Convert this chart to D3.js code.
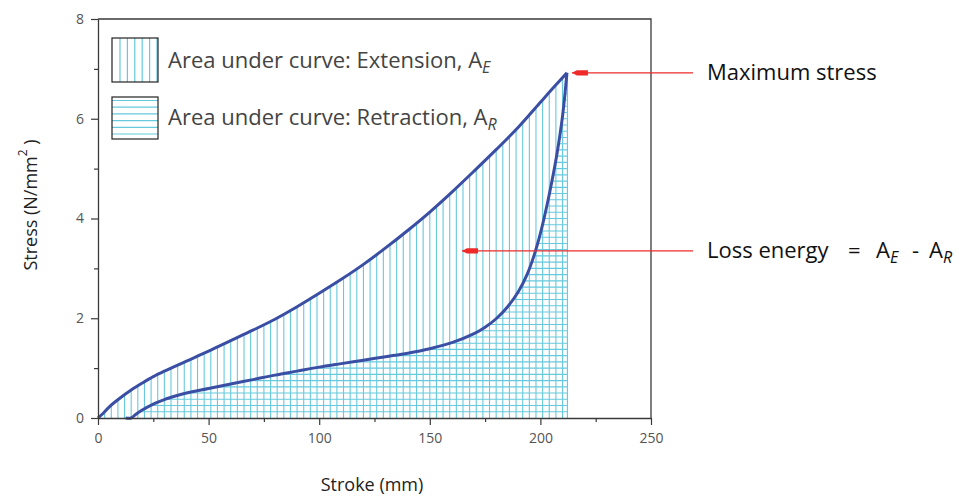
<!DOCTYPE html>
<html><head><meta charset="utf-8">
<script src="https://cdn.jsdelivr.net/npm/d3@7/dist/d3.min.js"></script>
<style>
body{margin:0;background:#fff;}
svg{display:block;font-family:"Open Sans",sans-serif;}
</style></head>
<body><svg id="c" width="964" height="498"></svg>
<script>
// ---- data ----
const extStroke = [0, 2, 5, 10, 15, 20, 25, 30, 40, 50, 60, 70, 80, 90, 100, 110, 120, 130, 140, 150, 160, 170, 180, 190, 200, 205, 212];
const extStress = [0, 0.08, 0.22, 0.40, 0.56, 0.70, 0.83, 0.94, 1.14, 1.34, 1.55, 1.76, 1.98, 2.23, 2.50, 2.78, 3.08, 3.41, 3.76, 4.13, 4.53, 4.95, 5.38, 5.83, 6.33, 6.58, 6.92];
const retStroke = [12.5, 15, 17, 20, 25, 30, 35, 40, 50, 60, 70, 80, 90, 100, 110, 120, 130, 140, 150, 160, 170, 175, 180, 185, 190, 194, 197, 200, 203, 205, 207.5, 210, 212];
const retStress = [0, 0, 0.07, 0.16, 0.28, 0.37, 0.44, 0.50, 0.59, 0.68, 0.77, 0.86, 0.94, 1.02, 1.09, 1.16, 1.23, 1.30, 1.39, 1.51, 1.69, 1.82, 1.99, 2.22, 2.53, 2.88, 3.24, 3.70, 4.27, 4.70, 5.30, 6.05, 6.92];
const xTicks = [0, 50, 100, 150, 200, 250];
const xMinor = [25, 75, 125, 175, 225];
const yTicks = [0, 2, 4, 6, 8];
const yMinor = [1, 3, 5, 7];
const legendLabels = ["Area under curve: Extension, A", "Area under curve: Retraction, A"];
const legendSubs = ["E", "R"];

const ext = extStroke.map((s, i) => ({x: s, y: extStress[i]}));
const ret = retStroke.map((s, i) => ({x: s, y: retStress[i]}));

const svg = d3.select("#c");
const L = 98, T = 19, R = 651, B = 418;
const x = d3.scaleLinear().domain([0, 250]).range([L, R]);
const y = d3.scaleLinear().domain([0, 8]).range([B, T]);

const hatch = "#66c9de";
const curveCol = "#3a4ea4";
const crv = d3.curveCatmullRom.alpha(0.5);

const areaGen = d3.area().x(d => x(d.x)).y0(y(0)).y1(d => y(d.y)).curve(crv);
const lineGen = d3.line().x(d => x(d.x)).y(d => y(d.y)).curve(crv);

const defs = svg.append("defs");
defs.append("clipPath").attr("id", "extClip").append("path").attr("d", areaGen(ext));
defs.append("clipPath").attr("id", "retClip").append("path").attr("d", areaGen(ret));

// vertical hatch (extension area)
const xmax = extStroke[extStroke.length - 1];
svg.append("g").attr("clip-path", "url(#extClip)")
  .selectAll("line").data(d3.range(0, xmax + 0.01, 3)).join("line")
  .attr("x1", d => x(d)).attr("x2", d => x(d))
  .attr("y1", y(0)).attr("y2", y(8))
  .attr("stroke", hatch).attr("stroke-width", 1.1);
// horizontal hatch (retraction area)
svg.append("g").attr("clip-path", "url(#retClip)")
  .selectAll("line").data(d3.range(0.125, 7, 0.125)).join("line")
  .attr("x1", x(0)).attr("x2", x(xmax))
  .attr("y1", d => y(d)).attr("y2", d => y(d))
  .attr("stroke", hatch).attr("stroke-width", 1.1);
// right edge of the hatched region
svg.append("line")
  .attr("x1", x(xmax) + 0.5).attr("x2", x(xmax) + 0.5)
  .attr("y1", y(0)).attr("y2", y(extStress[extStress.length - 1]))
  .attr("stroke", hatch).attr("stroke-width", 1.2);

// curves
svg.append("path").attr("d", lineGen(ext)).attr("fill", "none")
  .attr("stroke", curveCol).attr("stroke-width", 3).attr("stroke-linejoin", "round");
svg.append("path").attr("d", lineGen(ret)).attr("fill", "none")
  .attr("stroke", curveCol).attr("stroke-width", 3).attr("stroke-linejoin", "round");

// axes
const axCol = "#3a3a3a";
function styleAxis(g) {
  g.selectAll("path.domain").attr("stroke", axCol).attr("stroke-width", 1.3);
  g.selectAll(".tick line").attr("stroke", axCol).attr("stroke-width", 1.2);
  g.selectAll(".tick text").attr("fill", "#555").attr("font-size", 14)
    .attr("font-family", "'Open Sans',sans-serif");
}
const gx = svg.append("g").attr("transform", `translate(0,${B})`)
  .call(d3.axisBottom(x).tickValues(xTicks).tickSize(7).tickSizeOuter(0).tickPadding(8));
styleAxis(gx);
const gxm = svg.append("g").attr("transform", `translate(0,${B})`)
  .call(d3.axisBottom(x).tickValues(xMinor).tickSize(4).tickFormat(""));
gxm.select("path.domain").remove(); styleAxis(gxm);
const gy = svg.append("g").attr("transform", `translate(${L},0)`)
  .call(d3.axisLeft(y).tickValues(yTicks).tickSize(7).tickSizeOuter(0).tickPadding(7));
styleAxis(gy);
const gym = svg.append("g").attr("transform", `translate(${L},0)`)
  .call(d3.axisLeft(y).tickValues(yMinor).tickSize(4).tickFormat(""));
gym.select("path.domain").remove(); styleAxis(gym);
// frame top/right
svg.append("path").attr("d", `M${L},${T}H${R}V${B}`).attr("fill", "none")
  .attr("stroke", axCol).attr("stroke-width", 1.3);

// axis titles
svg.append("text").attr("x", 372).attr("y", 491).attr("text-anchor", "middle")
  .attr("font-size", 18).attr("fill", "#222").text("Stroke (mm)");
const yt = svg.append("text").attr("transform", "translate(37,205) rotate(-90)")
  .attr("text-anchor", "middle").attr("font-size", 18).attr("fill", "#222");
yt.append("tspan").text("Stress (N/mm");
yt.append("tspan").attr("dy", -10).attr("font-size", 12).text("2");
yt.append("tspan").attr("dy", 10).text(" )");

// legend
const lg = svg.append("g");
const boxes = [{y: 38, h: 44}, {y: 97, h: 42}];
boxes.forEach((b, i) => {
  const g = lg.append("g");
  g.append("rect").attr("x", 112).attr("y", b.y).attr("width", 46).attr("height", b.h)
    .attr("fill", "#fff");
  if (i === 0) {
    g.selectAll("line").data(d3.range(120, 158, 7.4)).join("line")
      .attr("x1", d => d).attr("x2", d => d).attr("y1", b.y).attr("y2", b.y + b.h)
      .attr("stroke", hatch).attr("stroke-width", 1.2);
  } else {
    g.selectAll("line").data(d3.range(b.y + 3.5, b.y + b.h, 6.7)).join("line")
      .attr("x1", 112).attr("x2", 158).attr("y1", d => d).attr("y2", d => d)
      .attr("stroke", hatch).attr("stroke-width", 1.2);
  }
  g.append("rect").attr("x", 112).attr("y", b.y).attr("width", 46).attr("height", b.h)
    .attr("fill", "none").attr("stroke", "#222").attr("stroke-width", 1.2);
  const t = g.append("text").attr("x", 168).attr("y", i === 0 ? 68 : 125)
    .attr("font-size", 22).attr("fill", "#444");
  t.append("tspan").text(legendLabels[i]);
  t.append("tspan").attr("dy", 5).attr("font-size", 16).attr("font-style", "italic").text(legendSubs[i]);
});

// annotations
const red = "#ee2a2a";
function arrow(x0, x1, yy) {
  svg.append("line").attr("x1", x0).attr("x2", x1).attr("y1", yy).attr("y2", yy)
    .attr("stroke", red).attr("stroke-width", 1.3);
  svg.append("path")
    .attr("d", `M${x0},${yy}L${x0 + 5},${yy - 2.6}H${x0 + 16}V${yy + 2.6}H${x0 + 5}Z`)
    .attr("fill", red);
}
const peakX = x(xmax), peakY = y(extStress[extStress.length - 1]);
arrow(peakX + 5, 693, peakY);
arrow(462, 693, y(3.35));

svg.append("text").attr("x", 707).attr("y", 80).attr("font-size", 22).attr("fill", "#111")
  .text("Maximum stress");
const le = svg.append("text").attr("x", 707).attr("y", 258).attr("font-size", 22).attr("fill", "#111");
le.append("tspan").text("Loss energy");
le.append("tspan").attr("x", 848).text("=");
le.append("tspan").attr("x", 876).text("A");
le.append("tspan").attr("dy", 5).attr("font-size", 16).attr("font-style", "italic").text("E");
le.append("tspan").attr("x", 912).attr("dy", -5).text("-");
le.append("tspan").attr("x", 929).text("A");
le.append("tspan").attr("dy", 5).attr("font-size", 16).attr("font-style", "italic").text("R");
</script>
</body></html>
